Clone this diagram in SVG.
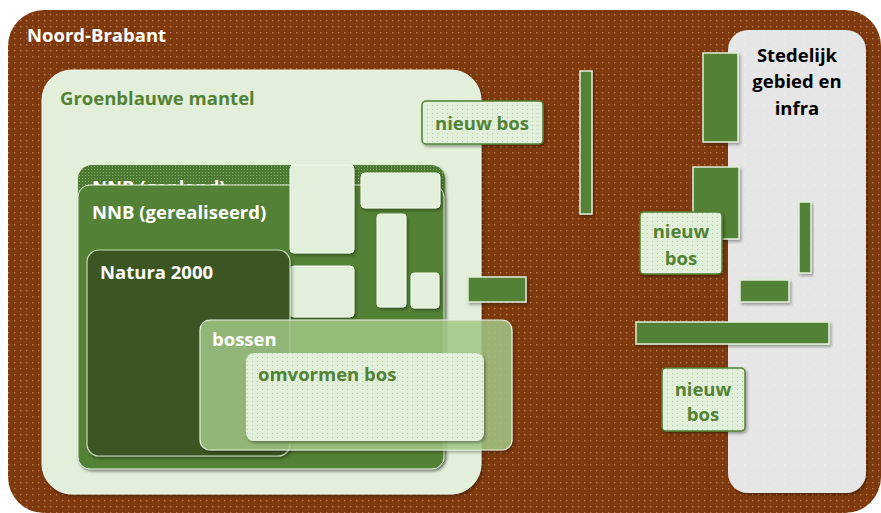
<svg xmlns="http://www.w3.org/2000/svg" width="881" height="513" viewBox="0 0 881 513">
<defs>
<pattern id="pBrown" width="6" height="6" patternUnits="userSpaceOnUse">
<rect width="6" height="6" fill="#7E3A0E"/>
<rect x="2" y="2" width="1.3" height="1.3" fill="#BC7E50"/>
</pattern>
<pattern id="pPale" width="5" height="4" patternUnits="userSpaceOnUse">
<rect width="5" height="4" fill="#E2EFDA"/>
<rect x="2" y="1" width="1" height="1" fill="#B4D0A0"/>
</pattern>
<pattern id="pDark" width="3" height="3" patternUnits="userSpaceOnUse">
<rect width="3" height="3" fill="#4E7A31"/>
<rect x="1" y="1" width="1" height="1" fill="#86AC68"/>
</pattern>
<pattern id="pGray" width="10" height="10" patternUnits="userSpaceOnUse">
<rect width="10" height="10" fill="#E6E6E6"/>
<rect x="4" y="4" width="1" height="1" fill="#F6F6F6"/>
</pattern>
<filter id="sh" x="-10%" y="-10%" width="130%" height="130%">
<feDropShadow dx="1.5" dy="2" stdDeviation="1.5" flood-color="#000" flood-opacity="0.35"/>
</filter>
</defs>
<style>
.lbl{font-family:"Open Sans",Lato,"Liberation Sans",sans-serif;font-weight:bold;font-size:18.5px}
.wt{fill:#FFFFFF}
.gt{fill:#538135}
.bt{fill:#000000}
.hole{fill:#E2EFDA;stroke:#F4F9F0;stroke-width:1;filter:url(#sh)}
.bar{fill:#538135;stroke:#E2EFDA;stroke-width:1.5;filter:url(#sh)}
.nb{fill:url(#pPale);stroke:#538135;stroke-width:1.5;filter:url(#sh)}
</style>
<g id="noord-brabant">
<rect x="8" y="10" width="873" height="503" rx="36" fill="url(#pBrown)"/>
<text class="lbl wt" x="27" y="42">Noord-Brabant</text>
</g>
<g id="stedelijk">
<rect x="728" y="30" width="138" height="463" rx="20" fill="url(#pGray)" filter="url(#sh)"/>
<text class="lbl bt" x="797" y="62" text-anchor="middle">Stedelijk</text>
<text class="lbl bt" x="797" y="88" text-anchor="middle">gebied en</text>
<text class="lbl bt" x="797" y="115" text-anchor="middle">infra</text>
</g>
<g id="groenblauwe-mantel">
<rect x="42" y="70" width="439" height="424" rx="30" fill="#E2EFDA" stroke="#F0F7EC" stroke-width="1" filter="url(#sh)"/>
<text class="lbl gt" x="60" y="105">Groenblauwe mantel</text>
</g>
<g id="nnb-gepland">
<rect x="78" y="165" width="367" height="303" rx="14" fill="url(#pDark)" filter="url(#sh)"/>
<text class="lbl wt" x="92" y="194">NNB (gepland)</text>
</g>
<g id="nnb-gerealiseerd">
<rect x="78" y="185" width="366" height="284" rx="12" fill="#538135" stroke="#E8F2E1" stroke-width="1" filter="url(#sh)"/>
<text class="lbl wt" x="92" y="219">NNB (gerealiseerd)</text>
</g>
<g id="holes">
<rect class="hole" x="290" y="165" width="64" height="88" rx="4"/>
<rect class="hole" x="361" y="173" width="79" height="35" rx="4"/>
<rect class="hole" x="377" y="214" width="29" height="93" rx="3"/>
<rect class="hole" x="411" y="273" width="28" height="35" rx="3"/>
<rect class="hole" x="290" y="266" width="64" height="51" rx="4"/>
</g>
<g id="natura-2000">
<rect x="87" y="250" width="203" height="206" rx="12" fill="#3B5724" stroke="#C9DDBB" stroke-width="1.2" filter="url(#sh)"/>
<text class="lbl wt" x="100" y="279">Natura 2000</text>
</g>
<g id="bossen">
<rect x="200" y="320" width="312" height="130" rx="10" fill="#A6CC8A" fill-opacity="0.8" stroke="#EAF3E4" stroke-width="1.2" filter="url(#sh)"/>
<text class="lbl wt" x="212" y="346">bossen</text>
</g>
<g id="omvormen-bos">
<rect x="246" y="353" width="238" height="88" rx="8" fill="url(#pPale)" filter="url(#sh)"/>
<text class="lbl gt" x="258" y="381">omvormen bos</text>
</g>
<g id="nieuw-bos-1">
<rect class="nb" x="422" y="101" width="121" height="43" rx="4"/>
<text class="lbl gt" x="482" y="130" text-anchor="middle">nieuw bos</text>
</g>
<g id="bars">
<rect class="bar" x="580" y="71" width="12" height="143"/>
<rect class="bar" x="468" y="277" width="58" height="25"/>
<rect class="bar" x="703" y="53" width="35" height="89"/>
<rect class="bar" x="693" y="167" width="46" height="72"/>
<rect class="bar" x="799" y="202" width="12" height="71"/>
<rect class="bar" x="740" y="280" width="49" height="22"/>
<rect class="bar" x="636" y="322" width="193" height="22"/>
</g>
<g id="nieuw-bos-2">
<rect class="nb" x="640" y="212" width="82" height="62" rx="4"/>
<text class="lbl gt" x="681" y="238" text-anchor="middle">nieuw</text>
<text class="lbl gt" x="681" y="265" text-anchor="middle">bos</text>
</g>
<g id="nieuw-bos-3">
<rect class="nb" x="662" y="368" width="83" height="63" rx="4"/>
<text class="lbl gt" x="703" y="396" text-anchor="middle">nieuw</text>
<text class="lbl gt" x="703" y="421" text-anchor="middle">bos</text>
</g>
</svg>
